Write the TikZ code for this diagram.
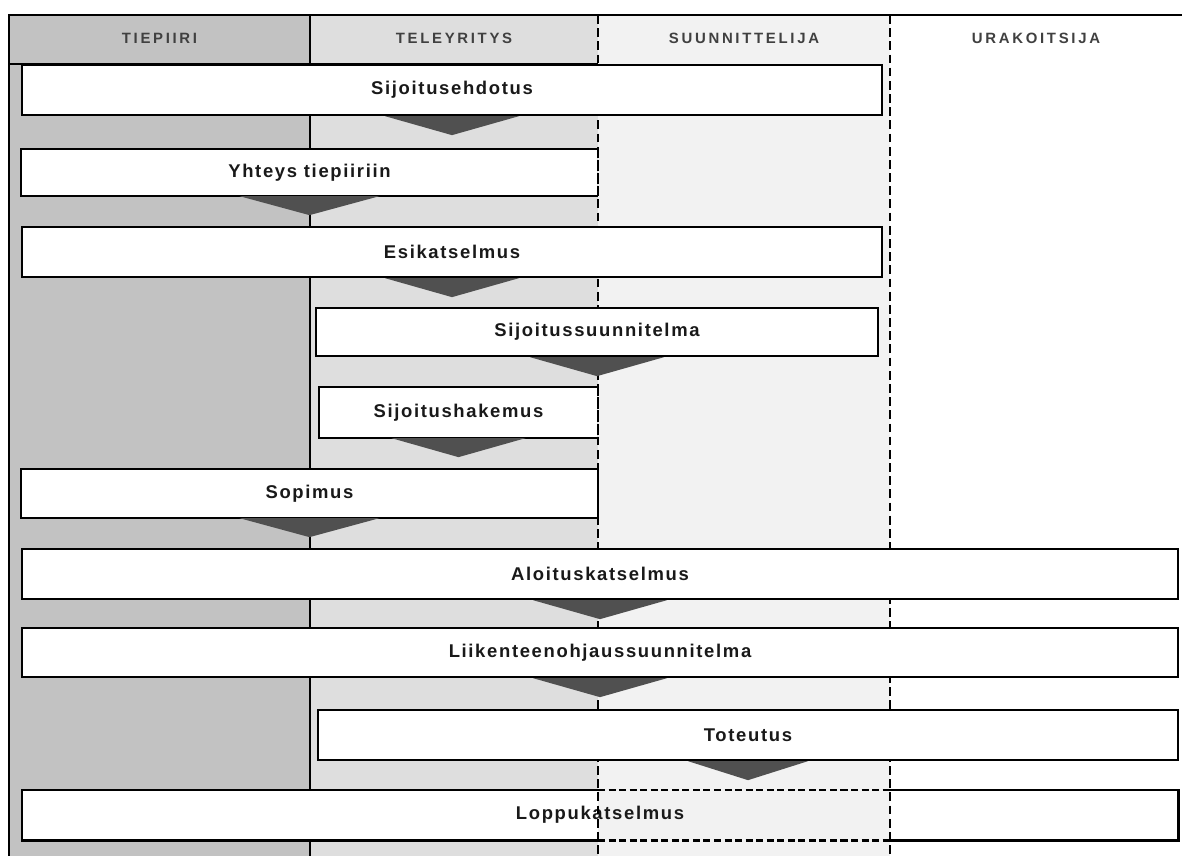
\documentclass[tikz,border=0pt]{standalone}
\usepackage{fontspec}
\setmainfont{Liberation Sans}
\newfontfamily\stagefont[LetterSpace=9]{Liberation Sans}
\newfontfamily\lanefont[LetterSpace=18]{Liberation Sans}
\usetikzlibrary{calc,fit}

\definecolor{laneA}{HTML}{C2C2C2}
\definecolor{laneB}{HTML}{DEDEDE}
\definecolor{laneC}{HTML}{F2F2F2}
\definecolor{wedgegray}{HTML}{505050}

% dark down-pointing wedge hanging under a stage box
\newcommand{\wedgebelow}[2][67]{%
  \fill[wedgegray] ($(#2.south)+(-#1,0)$) -- ($(#2.south)+(0,19)$) -- ($(#2.south)+(#1,0)$) -- cycle;}

\begin{document}
\begin{tikzpicture}[x=0.02cm, y=-0.02cm,
  frameline/.style={line width=1.2pt, black},
  divider/.style={line width=1.3pt, black, dash pattern=on 5pt off 2.5pt},
  lanehead/.style={font=\lanefont\bfseries\fontsize{8.5}{10}\selectfont, text=black!75},
  stagetext/.style={font=\stagefont\bfseries\fontsize{10.5}{12}\selectfont, text=black!90, inner sep=0pt},
  stagebox/.style={draw=black, line width=1.3pt, fill=white, inner sep=0pt},
  openbox/.style={stagebox, draw=none}]

\clip (0,0) rectangle (1182,856);
\fill[white] (0,0) rectangle (1182,856);

% swim lanes
\fill[laneA] (9,15) rectangle (310,856);
\fill[laneB] (310,15) rectangle (598,856);
\fill[laneC] (598,15) rectangle (890,856);

\coordinate (d0) at (310,15);
\coordinate (d1) at (598,15);
\coordinate (d2) at (890,15);

% frame and solid lane border
\draw[frameline] (1182,15) -- (9,15) -- (9,856);
\draw[frameline] (9,64) -- (d1 |- 0,64);
\draw[frameline] (d0) -- (310,856);

% last stage: background with the designer lane left open
\node[inner sep=0pt, fit={(22,790) (1178,840)}] (b10) {};
\fill[white] (b10.north west) rectangle (b10.south east);
\fill[laneC] (b10.north -| d1) rectangle (b10.south -| d2);
\node[stagetext] (b10t) at (b10.center) {Loppukatselmus};

% dashed lane borders
\draw[divider] (d1) -- (598,856);
\draw[divider] (d2) -- (890,856);

% lane headings
\node[lanehead] (h1) at (159.5,38) {TIEPIIRI};
\node[lanehead] (h2) at (454,38) {TELEYRITYS};
\node[lanehead] (h3) at (744,38) {SUUNNITTELIJA};
\node[lanehead] (h4) at (1036,38) {URAKOITSIJA};

% stages
\node[stagebox, fit={(22,65) (882,115)}, label={[stagetext]center:Sijoitusehdotus}] (b1) {};
\node[openbox, fit={(22,150) (597,195)}, label={[stagetext]center:Yhteys tiepiiriin}] (b2) {};
\node[stagebox, fit={(22,227) (882,277)}, label={[stagetext]center:Esikatselmus}] (b3) {};
\node[stagebox, fit={(316,308) (878,356)}, label={[stagetext]center:Sijoitussuunnitelma}] (b4) {};
\node[openbox, fit={(320,388) (597,437)}, label={[stagetext]center:Sijoitushakemus}] (b5) {};
\node[openbox, fit={(22,470) (597,517)}, label={[stagetext]center:Sopimus}] (b6) {};
\node[stagebox, fit={(22,549) (1178,599)}, label={[stagetext]center:Aloituskatselmus}] (b7) {};
\node[stagebox, fit={(22,628) (1178,677)}, label={[stagetext]center:Liikenteenohjaussuunnitelma}] (b8) {};
\node[stagebox, fit={(318,710) (1178,760)}, label={[stagetext]center:Toteutus}] (b9) {};

% boxes closed by the dashed lane border
\foreach \b in {b2,b5,b6}{
  \draw[line width=1.3pt] (\b.north east) -- (\b.north west) -- (\b.south west) -- (\b.south east);
  \draw[divider] (\b.north east) -- (\b.south east);
}

% outline of the last stage
\draw[line width=1.3pt] (b10.north -| d1) -- (b10.north west) -- (b10.south west) -- (b10.south -| d1);
\draw[line width=1.3pt] (b10.north -| d2) -- (b10.north east) -- (b10.south east) -- (b10.south -| d2);
\draw[line width=1.3pt, dash pattern=on 4pt off 2pt] (b10.north -| d1) -- (b10.north -| d2);
\draw[line width=1.3pt, dash pattern=on 4pt off 2pt] (b10.south -| d1) -- (b10.south -| d2);

% flow wedges between stages
\wedgebelow{b1}
\wedgebelow[70]{b2}
\wedgebelow{b3}
\wedgebelow{b4}
\wedgebelow{b5}
\wedgebelow[70]{b6}
\wedgebelow{b7}
\wedgebelow{b8}
\wedgebelow[60]{b9}

\end{tikzpicture}
\end{document}
